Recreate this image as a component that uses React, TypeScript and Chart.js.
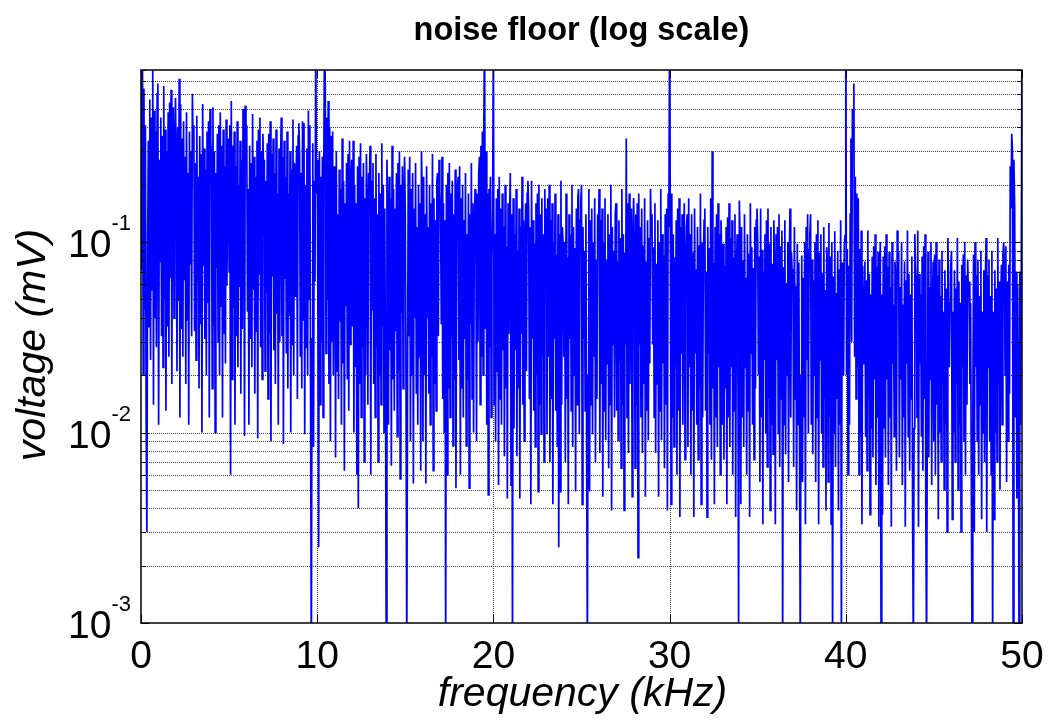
import React, { useEffect, useRef } from "react";
import { Chart, registerables } from "chart.js";

Chart.register(...registerables);

// ---------- text ----------
const TITLE = "noise floor (log scale)";
const X_LABEL = "frequency (kHz)";
const Y_LABEL = "voltage (mV)";

// ---------- axes ----------
const X_MIN = 0;
const X_MAX = 50;
const Y_MIN = 0.001;
const Y_MAX = 0.8;
const X_TICKS = [0, 10, 20, 30, 40, 50];
const Y_DECADES = [-3, -2, -1];
const Y_MINOR_MULTIPLIERS = [1, 2, 3, 4, 5, 6, 7, 8, 9];

// spectrum magnitude in mV; each row = one kHz, bins evenly spread inside it
const voltage0to10 = [
  [.85,.072,.95,.02,.64,.044,.41,.012,.003,.088,.34,.036,.56,.024,.45,.056,.83,.014,.49,.04,.38,.028,.6,.68],
  [.011,.27,.079,.45,.032,.36,.022,.66,.05,.39,.013,.3,.036,.48,.025,.54,.065,.63,.018,.42,.51,.04,.33,.57],
  [.25,.021,.4,.049,.72,.012,.53,.035,.35,.025,.43,.063,.28,.018,.48,.039,.23,.011,.38,.077,.3,.032,.6,.33],
  [.41,.034,.26,.024,.46,.061,.22,.017,.36,.037,.29,.01,.53,.075,.31,.031,.24,.02,.38,.048,.43,.012,.5,.34],
  [.28,.017,.51,.036,.3,.01,.23,.073,.37,.03,.41,.02,.48,.046,.32,.012,.39,.033,.25,.023,.44,.059,.21,.35],
  [.07,.41,.006,.55,.019,.32,.045,.38,.011,.25,.032,.43,.022,.2,.058,.34,.016,.27,.035,.5,.29,.0096,.52,.36],
  [.41,.043,.19,.011,.32,.031,.26,.022,.47,.056,.28,.016,.22,.034,.34,.0093,.39,.068,.45,.028,.3,.019,.37,.24],
  [.27,.021,.21,.054,.33,.015,.37,.033,.43,.009,.29,.066,.35,.027,.23,.018,.39,.042,.18,.011,.31,.03,.25,.45],
  [.032,.28,.0087,.34,.064,.22,.026,.38,.017,.18,.041,.3,.01,.24,.029,.44,.02,.26,.052,.2,.32,.015,.36,.42],
  [.29,.025,.23,.017,.43,.039,.42,.0098,.2,.028,.31,.02,.49,.05,.41,.014,.0006,.031,.33,.0084,.21,.062,1.2,.18],
];

const voltage10to20 = [
  [.27,.04,.0025,.3,.014,.22,.03,.28,.012,.26,1.5,.65,.026,.45,.05,.55,.018,.4,.009,.36,.03,.38,.02,.25],
  [.18,.0074,.3,.021,.14,.015,.24,.038,.19,.011,.35,.023,.21,.0063,.16,.046,.26,.019,.29,.013,.34,.029,.22,.27],
  [.036,.34,.01,.2,.022,.16,.006,.25,.004,.28,.018,.33,.012,.22,.028,.26,.007,.17,.02,.29,.14,.014,.23,.19],
  [.32,.006,.21,.044,.26,.018,.17,.012,.29,.028,.14,.007,.23,.02,.18,.014,.33,.036,.2,.01,.15,.022,.0007,.27],
  [.13,.011,.22,.027,.17,.0067,.32,.019,.19,.013,.15,.034,.23,.0095,.26,.021,.3,.0057,.2,.042,.25,.017,.16,.28],
  [.14,.018,.0007,.013,.24,.032,.28,.009,.19,.02,.23,.0054,.15,.04,.26,.016,.12,.011,.2,.025,.16,.0063,.3,.18],
  [.009,.22,.02,.14,.0054,.25,.04,.12,.016,.2,.011,.16,.025,.29,.0063,.17,.018,.13,.013,.21,.23,.032,.27,.18],
  [.15,.037,.28,.015,.16,.01,.13,.0007,.2,.006,.23,.017,.26,.012,.18,.031,.21,.0085,.14,.019,.24,.0051,.11,.19],
  [.22,.024,.25,.006,.17,.017,.2,.012,.13,.031,.23,.0085,.11,.019,.18,.0051,.14,.037,.26,.015,.16,.01,.12,.19],
  [.15,.009,.18,.03,.23,.28,.014,.32,.025,.38,.02,.42,1.4,.035,.3,.011,.18,.0047,.19,.028,.22,.012,.08,.15],
];

const voltage20to30 = [
  [1.5,.014,.11,.009,.17,.021,.19,.0053,.22,.015,.15,.011,.18,.027,.12,.0075,.2,.017,.095,.0045,.16,.033,.13,.23],
  [.0053,.14,.0007,.17,.0105,.11,.027,.19,.0075,.09,.017,.15,.0045,.12,.033,.22,.014,.13,.009,.1,.16,.021,.18,.21],
  [.15,.015,.12,.0042,.21,.031,.13,.013,.098,.0084,.16,.02,.18,.0049,.2,.014,.14,.0098,.17,.025,.11,.007,.19,.088],
  [.15,.0098,.17,.025,.2,.007,.13,.015,.16,.0042,.1,.031,.18,.013,.086,.0084,.14,.0025,.11,.0049,.21,.014,.12,.095],
  [.025,.1,.007,.18,.015,.083,.0042,.14,.031,.11,.013,.2,.0084,.12,.02,.093,.0049,.15,.014,.17,.19,.0098,.13,.16],
  [.2,.0042,.12,.031,.09,.013,.14,.0084,.0007,.02,.19,.0049,.13,.014,.15,.0098,.099,.025,.17,.007,.081,.015,.14,.11],
  [.19,.0078,.13,.018,.15,.0046,.099,.013,.17,.0091,.081,.023,.14,.0065,.11,.014,.2,.0039,.12,.029,.09,.012,.14,.16],
  [.013,.079,.0091,.13,.023,.105,.0065,.19,.014,.11,.0039,.088,.029,.35,.012,.16,.0078,.18,.018,.12,.15,.0046,.096,.17],
  [.088,.0065,.14,.014,.16,.0022,.18,.029,.12,.012,.15,.0078,.096,.018,.17,.0046,.079,.013,.13,.0091,.105,.023,.19,.11],
  [.14,.029,.094,.012,.16,.0078,.077,.018,.13,.0046,.1,.013,.19,.0091,.11,.023,.085,.0065,.14,.014,.15,.0039,.18,.12],
];

const voltage30to40 = [
  [1.5,.099,.0042,.18,.012,.11,.0084,.083,.022,.13,.006,.15,.013,.17,.0036,.12,.026,.14,.011,.091,.16,.0072,.074,.12],
  [.14,.0084,.17,.022,.11,.006,.14,.013,.088,.0036,.15,.026,.072,.011,.12,.0072,.096,.017,.18,.0042,.1,.012,.08,.13],
  [.15,.013,.07,.0036,.12,.026,.093,.011,.17,.0072,.3,.017,.078,.0042,.12,.012,.14,.0084,.16,.022,.11,.006,.13,.085],
  [.011,.098,.0072,.075,.017,.12,.0042,.135,.012,.16,.0084,.105,.022,.13,.006,.083,.013,.14,.0036,.068,.11,.026,.0009,.165],
  [.1,.0042,.12,.012,.08,.0084,.14,.022,.065,.006,.11,.013,.087,.0036,.16,.026,.094,.011,.073,.0072,.12,.017,.13,.15],
  [.105,.02,.084,.0055,.15,.012,.091,.0033,.07,.024,.11,.0099,.13,.0066,.15,.015,.098,.0039,.12,.011,.077,.0077,.13,.063],
  [.0033,.11,.024,.12,.0099,.14,.0066,.095,.015,.115,.0007,.074,.011,.13,.0077,.061,.02,.1,.0055,.081,.15,.012,.088,.068],
  [.072,.0066,.12,.015,.059,.0039,.098,.011,.078,.0077,.0007,.02,.085,.0055,.065,.012,.1,.0033,.12,.024,.14,.0099,.091,.11],
  [.14,.011,.081,.0077,.063,.02,.1,.0055,.11,.012,.13,.0033,.088,.024,.11,.0099,.069,.0066,.12,.015,.056,.0039,.094,.075],
  [.0055,.126,.012,.084,.0033,.1,.0007,.066,.0099,.114,.0066,.054,.015,.09,.0039,.072,.011,.13,.0007,.078,.06,.02,.096,.108],
];

const voltage40to50 = [
  [1.5,.02,.092,.006,.075,.011,.14,.35,.03,.5,.3,.68,.025,.22,.015,.18,.022,.17,.006,.092,.0095,.115,.0033,.075],
  [.047,.023,.079,.0095,.063,.0063,.115,.015,.068,.0037,.053,.0105,.084,.0074,.095,.019,.11,.0053,.074,.012,.089,.0032,.058,.1],
  [.0009,.053,.0037,.084,.0105,.095,.0074,.11,.019,.074,.0053,.089,.012,.058,.0032,.1,.023,.047,.0095,.079,.063,.0063,.115,.068],
  [.089,.0074,.058,.019,.1,.0053,.047,.012,.079,.0032,.063,.023,.115,.0095,.068,.0063,.053,.015,.084,.0037,.0007,.0105,.11,.074],
  [.063,.012,.115,.0032,.068,.023,.053,.0095,.084,.0063,.095,.015,.11,.0037,.0007,.0105,.089,.0074,.058,.019,.1,.0053,.047,.079],
  [.009,.086,.006,.1,.014,.067,.0035,.081,.01,.052,.007,.09,.018,.043,.005,.071,.011,.057,.003,.105,.062,.022,.048,.076],
  [.09,.0035,.043,.01,.071,.007,.057,.018,.105,.005,.062,.011,.048,.003,.076,.022,.086,.009,.1,.006,.067,.014,.081,.052],
  [.062,.018,.048,.005,.0007,.011,.086,.003,.1,.022,.067,.009,.081,.006,.052,.014,.09,.0035,.043,.01,.071,.007,.057,.105],
  [.003,.067,.022,.081,.009,.052,.006,.09,.0007,.043,.0035,.071,.01,.057,.007,.105,.018,.062,.005,.048,.076,.011,.086,.1],
  [.076,.02,.095,.0055,.062,.009,.076,.016,.25,.15,.37,.3,.0007,.27,.15,.012,.07,.0045,.06,.018,.0007,.07,.011,.065],
];

const voltageAt50kHz = 1.5;

// ---------- style ----------
const FONT = "Arial, 'Liberation Sans', Helvetica, sans-serif";
const LINE_COLOR = "#0000ff";
const GRID_COLOR = "#444444";

function buildPoints() {
  const rows = [
    ...voltage0to10,
    ...voltage10to20,
    ...voltage20to30,
    ...voltage30to40,
    ...voltage40to50,
  ];
  const pts: { x: number; y: number }[] = [];
  rows.forEach((row, k) => {
    row.forEach((v, j) => pts.push({ x: k + j / row.length, y: v }));
  });
  pts.push({ x: X_MAX, y: voltageAt50kHz });
  return pts;
}

const matlabAxes = {
  id: "matlabAxes",
  beforeDatasetsDraw(chart: any) {
    const { ctx, chartArea: a, scales } = chart;
    const x = scales.x;
    const y = scales.y;
    ctx.save();
    ctx.strokeStyle = GRID_COLOR;
    ctx.lineWidth = 1;
    ctx.setLineDash([1, 1]);
    for (const d of Y_DECADES) {
      for (const m of Y_MINOR_MULTIPLIERS) {
        const v = m * Math.pow(10, d);
        if (v <= Y_MIN * 1.0001 || v >= Y_MAX * 0.9999) continue;
        const py = Math.round(y.getPixelForValue(v)) + 0.5;
        ctx.beginPath();
        ctx.moveTo(a.left, py);
        ctx.lineTo(a.right, py);
        ctx.stroke();
      }
    }
    for (const t of X_TICKS) {
      if (t === X_MIN || t === X_MAX) continue;
      const px = Math.round(x.getPixelForValue(t)) + 0.5;
      ctx.beginPath();
      ctx.moveTo(px, a.top);
      ctx.lineTo(px, a.bottom);
      ctx.stroke();
    }
    ctx.restore();
  },
  afterDatasetsDraw(chart: any) {
    const { ctx, chartArea: a, scales } = chart;
    const x = scales.x;
    const y = scales.y;
    ctx.save();
    ctx.setLineDash([]);
    ctx.strokeStyle = "#000";
    ctx.lineWidth = 1.5;
    ctx.strokeRect(a.left, a.top, a.right - a.left, a.bottom - a.top);

    // tick marks (inward)
    ctx.lineWidth = 1;
    ctx.beginPath();
    for (const t of X_TICKS) {
      const px = Math.round(x.getPixelForValue(t)) + 0.5;
      ctx.moveTo(px, a.bottom);
      ctx.lineTo(px, a.bottom - 8);
      ctx.moveTo(px, a.top);
      ctx.lineTo(px, a.top + 8);
    }
    for (const d of Y_DECADES) {
      for (const m of Y_MINOR_MULTIPLIERS) {
        const v = m * Math.pow(10, d);
        if (v < Y_MIN * 0.9999 || v > Y_MAX * 1.0001) continue;
        const py = Math.round(y.getPixelForValue(v)) + 0.5;
        const len = m === 1 ? 8 : 5;
        ctx.moveTo(a.left, py);
        ctx.lineTo(a.left + len, py);
        ctx.moveTo(a.right, py);
        ctx.lineTo(a.right - len, py);
      }
    }
    ctx.stroke();

    ctx.fillStyle = "#000";
    // title
    ctx.font = `bold 32.5px ${FONT}`;
    ctx.textAlign = "center";
    ctx.textBaseline = "alphabetic";
    ctx.fillText(TITLE, (a.left + a.right) / 2, 40);

    // x tick labels
    ctx.font = `39px ${FONT}`;
    for (const t of X_TICKS) {
      ctx.fillText(String(t), x.getPixelForValue(t), 668);
    }
    // x title
    ctx.font = `italic 41px ${FONT}`;
    ctx.fillText(X_LABEL, (a.left + a.right) / 2 + 1, 706);

    // y tick labels 10^d
    ctx.textAlign = "right";
    for (const d of Y_DECADES) {
      const py = y.getPixelForValue(Math.pow(10, d));
      const exp = String(d);
      ctx.font = `22px ${FONT}`;
      const expW = ctx.measureText(exp).width;
      ctx.fillText(exp, 131, py - 12);
      ctx.font = `39px ${FONT}`;
      ctx.fillText("10", 131 - expW, py + 15);
    }

    // y title
    ctx.save();
    ctx.translate(45, 345);
    ctx.rotate(-Math.PI / 2);
    ctx.textAlign = "center";
    ctx.font = `italic 41px ${FONT}`;
    ctx.fillText(Y_LABEL, 0, 0);
    ctx.restore();

    ctx.restore();
  },
};

export default function App() {
  const canvasRef = useRef<HTMLCanvasElement | null>(null);

  useEffect(() => {
    document.body.style.margin = "0";
    const canvas = canvasRef.current;
    if (!canvas) return;
    const chart = new Chart(canvas, {
      type: "line",
      data: {
        datasets: [
          {
            data: buildPoints(),
            borderColor: LINE_COLOR,
            borderWidth: 1.7,
            pointRadius: 0,
            tension: 0,
            fill: false,
            clip: 0,
          } as any,
        ],
      },
      options: {
        responsive: false,
        animation: false,
        devicePixelRatio: 1,
        parsing: false,
        normalized: true,
        layout: { padding: { left: 141, right: 27, top: 70, bottom: 99 } },
        plugins: {
          legend: { display: false },
          title: { display: false },
          tooltip: { enabled: false },
        },
        events: [],
        scales: {
          x: { type: "linear", min: X_MIN, max: X_MAX, display: false },
          y: { type: "logarithmic", min: Y_MIN, max: Y_MAX, display: false },
        },
      },
      plugins: [matlabAxes],
    });
    return () => chart.destroy();
  }, []);

  return (
    <div style={{ width: 1049, height: 722, background: "#fff" }}>
      <canvas ref={canvasRef} width={1049} height={722} />
    </div>
  );
}
